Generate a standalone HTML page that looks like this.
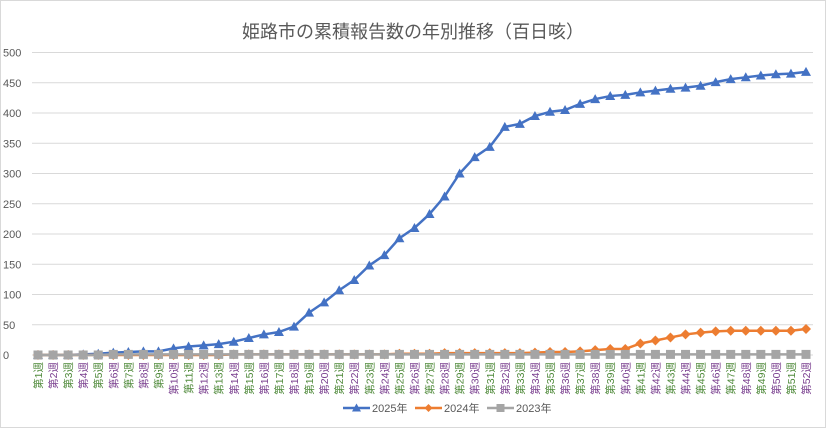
<!DOCTYPE html>
<html><head><meta charset="utf-8"><style>
html,body{margin:0;padding:0;background:#fff}
svg{display:block;font-family:"Liberation Sans","Noto Sans CJK JP",sans-serif}
</style></head><body>
<svg id="chart" width="826" height="428" viewBox="0 0 826 428">
<rect x="0.5" y="0.5" width="825" height="427" fill="#fff" stroke="#d9d9d9"/>
<text x="413" y="38" text-anchor="middle" font-size="18" fill="#595959">姫路市の累積報告数の年別推移（百日咳）</text>
<g id="grid"></g><g id="ylabels"></g><g id="xlabels"></g><g id="series"></g>
<g font-size="11" fill="#595959">
<g><line x1="343" y1="408" x2="370" y2="408" stroke="#4472c4" stroke-width="2.5"/><polygon points="356.5,403.5 361,411.5 352,411.5" fill="#4472c4"/><text x="372" y="412">2025年</text></g>
<g><line x1="415" y1="408" x2="442" y2="408" stroke="#ed7d31" stroke-width="2.5"/><polygon points="428.5,404 432.5,408 428.5,412 424.5,408" fill="#ed7d31"/><text x="444" y="412">2024年</text></g>
<g><line x1="487" y1="408" x2="514" y2="408" stroke="#a5a5a5" stroke-width="2.5"/><rect x="496.5" y="404" width="8" height="8" fill="#a5a5a5"/><text x="516" y="412">2023年</text></g>
</g>
</svg>
<script>
const weeks = Array.from({length:52},(_,i)=>'第'+(i+1)+'週');
const yTicks = [0,50,100,150,200,250,300,350,400,450,500];
const s2025 = [0,0,0,1,2,4,5,6,6,11,14,16,18,22,28,34,38,47,70,87,107,124,148,165,193,210,233,262,300,327,344,377,382,395,402,405,415,423,428,430,434,437,440,442,445,451,456,459,462,464,465,468];
const s2024 = [0,0,0,0,0,0,0,0,0,0,0,0,0,1,1,1,1,1,1,1,1,1,1,1,2,2,2,3,3,3,3,3,3,4,5,5,6,8,10,10,19,24,29,34,37,39,40,40,40,40,40,43];
const s2023 = [0,0,0,0,0,1,1,1,1,1,1,1,1,1,1,1,1,1,1,1,1,1,1,1,1,1,1,1,1,1,1,1,1,1,1,1,1,1,1,1,1,1,1,1,1,1,1,1,1,1,1,1];
const NS='http://www.w3.org/2000/svg';
const x0=38,x1=806,yb=355,yt=52.5,ymax=500;
const xs=i=>x0+(x1-x0)*i/(weeks.length-1);
const ys=v=>yb-(yb-yt)*v/ymax;
function mk(tag,attrs,parent){const e=document.createElementNS(NS,tag);for(const k in attrs)e.setAttribute(k,attrs[k]);parent.appendChild(e);return e;}
const grid=document.getElementById('grid'),yl=document.getElementById('ylabels'),xl=document.getElementById('xlabels'),sg=document.getElementById('series');
yTicks.forEach(t=>{
  const l=mk('line',{x1:32,x2:813,y1:ys(t),y2:ys(t),stroke:'#d9d9d9','stroke-width':1},grid);
  
  
  const tx=mk('text',{x:3,y:ys(t)+4,'font-size':11,fill:'#595959'},yl);
  
  
  tx.textContent=t;
});
weeks.forEach((w,i)=>{
  const x=xs(i);
  const tx=mk('text',{x:0,y:0,'font-size':10.5,fill:i%2?'#7a3f8f':'#4f8a3a',transform:`translate(${x+4},362) rotate(-90)`,'text-anchor':'end'},xl);
  
  
  tx.textContent=w;
});
function series(data,color,shape,name){
  const g=mk('g',{},sg);
  
  
  const p=mk('polyline',{points:data.map((v,i)=>xs(i)+','+ys(v)).join(' '),fill:'none',stroke:color,'stroke-width':2.5,'stroke-linejoin':'round'},g);
  
  
  data.forEach((v,i)=>{
    const x=xs(i),y=ys(v);let m;
    if(shape==='tri')m=mk('polygon',{points:`${x},${y-5} ${x+5},${y+4} ${x-5},${y+4}`,fill:color},g);
    else if(shape==='dia')m=mk('polygon',{points:`${x},${y-5} ${x+5},${y} ${x},${y+5} ${x-5},${y}`,fill:color},g);
    else m=mk('rect',{x:x-4.5,y:y-4.5,width:9,height:9,fill:color},g);
    
    
  });
}
series(s2025,'#4472c4','tri','series-2025');
series(s2024,'#ed7d31','dia','series-2024');
series(s2023,'#a5a5a5','sq','series-2023');
</script>
</body></html>
